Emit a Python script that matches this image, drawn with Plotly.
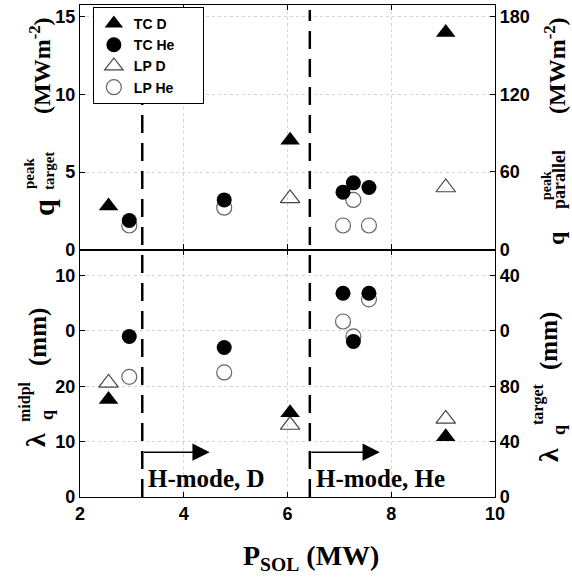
import plotly.graph_objects as go

# ---- data ----
x_D = [2.55, 6.05, 9.05]
x_He = [2.95, 4.78, 7.07, 7.27, 7.57]

# top panel: q_target^peak (MW m^-2)
top_TC_D = [2.8, 7.05, 14.0]
top_TC_He = [1.87, 3.2, 3.7, 4.3, 4.0]
top_LP_D = [None, 3.3, 4.0]
top_LP_He = [1.55, 2.7, 1.55, 3.2, 1.55]

# bottom panel: lambda_q^midpl (mm)
bot_TC_D = [17.6, 15.2, 10.9]
bot_TC_He = [29.0, 27.0, 36.8, 28.1, 36.8]
bot_LP_D = [20.6, 13.0, 14.1]
bot_LP_He = [21.7, 22.5, 31.7, 29.0, 35.7]

x_ticks = [2, 4, 6, 8, 10]
top_left_ticks = [0, 5, 10, 15]
top_right_ticks = [0, 60, 120, 180]
bot_left_ticks = [0, 10, 20, 30, 40]
bot_left_text = ["0", "10", "20", "0", "10"]
bot_right_ticks = [0, 40, 80, 120, 160]
bot_right_text = ["0", "40", "80", "0", "40"]

hmode_D = 3.2
hmode_He = 6.43

SANS = "Liberation Sans, Arial, sans-serif"
SERIF = "Liberation Serif, Times New Roman, serif"
NB = "\u00a0"

fig = go.Figure()

mk = dict(
    TC_D=dict(symbol="triangle-up", size=17, color="black", line=dict(width=0)),
    TC_He=dict(symbol="circle", size=15, color="black", line=dict(width=0)),
    LP_D=dict(symbol="triangle-up-open", size=17, color="#444", line=dict(width=1.2, color="#444")),
    LP_He=dict(symbol="circle-open", size=15, color="#666", line=dict(width=1.2, color="#666")),
)

# open markers drawn first so filled markers sit on top
series = [
    ("LP D", "LP_D", x_D, top_LP_D, bot_LP_D, 3),
    ("LP He", "LP_He", x_He, top_LP_He, bot_LP_He, 4),
    ("TC D", "TC_D", x_D, top_TC_D, bot_TC_D, 1),
    ("TC He", "TC_He", x_He, top_TC_He, bot_TC_He, 2),
]
for name, key, xs, ytop, ybot, rank in series:
    fig.add_trace(go.Scatter(x=xs, y=ytop, mode="markers", name=name + NB * 6, marker=mk[key],
                             xaxis="x2", yaxis="y", legendgroup=name, legendrank=rank))
    fig.add_trace(go.Scatter(x=xs, y=ybot, mode="markers", name=name, marker=mk[key],
                             xaxis="x", yaxis="y3", legendgroup=name, showlegend=False))

# empty traces so the right-hand axes are drawn
fig.add_trace(go.Scatter(x=[], y=[], xaxis="x2", yaxis="y2", showlegend=False, hoverinfo="skip"))
fig.add_trace(go.Scatter(x=[], y=[], xaxis="x", yaxis="y4", showlegend=False, hoverinfo="skip"))

split = 0.503
tickfont = dict(family=SANS, size=18, color="black", weight="bold")
grid = dict(showgrid=True, gridcolor="#d4d4d4", griddash="dot", gridwidth=1)
common = dict(ticks="inside", ticklen=5, tickwidth=1, tickcolor="black",
              showline=True, linecolor="black", linewidth=1.3, zeroline=False, tickfont=tickfont)

fig.update_layout(
    width=572, height=577,
    margin=dict(l=80, r=77, t=5, b=80),
    paper_bgcolor="white", plot_bgcolor="white",
    xaxis=dict(domain=[0, 1], anchor="y3", range=[2, 10], tickvals=x_ticks, mirror="ticks", **grid, **common),
    xaxis2=dict(domain=[0, 1], anchor="y", range=[2, 10], tickvals=x_ticks, matches="x",
                showticklabels=False, mirror="ticks", **grid, **common),
    yaxis=dict(domain=[split, 1], anchor="x2", range=[0, 15.77], tickvals=top_left_ticks, **grid, **common),
    yaxis2=dict(overlaying="y", side="right", anchor="x2", range=[0, 189.2], tickvals=top_right_ticks,
                showgrid=False, **common),
    yaxis3=dict(domain=[0, split], anchor="x", range=[0, 44.7], tickvals=bot_left_ticks,
                ticktext=bot_left_text, **grid, **common),
    yaxis4=dict(overlaying="y3", side="right", anchor="x", range=[0, 178.8], tickvals=bot_right_ticks,
                ticktext=bot_right_text, showgrid=False, **common),
    legend=dict(x=0.031, y=0.996, xanchor="left", yanchor="top", bgcolor="white",
                bordercolor="black", borderwidth=1,
                font=dict(family=SANS, size=14, color="black", weight="bold"),
                tracegroupgap=0, itemwidth=30),
    showlegend=True,
)

# dashed H-mode threshold lines
for xv in (hmode_D, hmode_He):
    fig.add_shape(type="line", xref="x", yref="paper", x0=xv, x1=xv, y0=0, y1=0.99,
                  line=dict(color="black", width=2.5, dash="18px,10px"))

# arrows
for x0, x1 in ((hmode_D, 4.5), (hmode_He, 7.78)):
    fig.add_annotation(x=x1, y=8.1, ax=x0, ay=8.1, xref="x", yref="y3", axref="x", ayref="y3",
                       text="", showarrow=True, arrowhead=2, arrowsize=2.3, arrowwidth=1.5,
                       arrowcolor="black")

fig.add_annotation(x=4.43, y=3.4, xref="x", yref="y3", text="<b>H-mode, D</b>", showarrow=False,
                   font=dict(family=SERIF, size=25, color="black"))
fig.add_annotation(x=7.8, y=3.4, xref="x", yref="y3", text="<b>H-mode, He</b>", showarrow=False,
                   font=dict(family=SERIF, size=25, color="black"))

# x title
fig.add_annotation(x=0.557, y=0, xref="paper", yref="paper", yshift=-60, yanchor="middle",
                   text="<b>P<sub>SOL</sub> (MW)</b>", showarrow=False,
                   font=dict(family=SERIF, size=28, color="black"))


# rotated y titles, built from pieces placed at pixel positions
def rot(text, px, py, size):
    fig.add_annotation(x=0, y=0, xref="paper", yref="paper", xshift=px - 80, yshift=497 - py,
                       xanchor="center", yanchor="middle", textangle=-90, showarrow=False,
                       text="<b>" + text + "</b>", font=dict(family=SERIF, size=size, color="black"))


# top-left: q^peak_target (MWm^-2)
rot("(MWm<sup>-2</sup>)", 40, 66, 24)
rot("q", 43, 208, 30)
rot("peak", 29, 173, 15)
rot("target", 49, 171, 15)
# top-right: q^peak_parallel (MWm^-2)
rot("(MWm<sup>-2</sup>)", 555, 66, 24)
rot("q", 556, 238, 24)
rot("peak", 546, 186, 14)
rot("parallel", 559, 180, 18)
# bottom-left: lambda_q^midpl (mm)
rot("(mm)", 38, 337, 25)
rot("λ", 35, 440, 28)
rot("midpl", 25, 402, 16)
rot("q", 47, 415, 18)
# bottom-right: lambda_q^target (mm)
rot("(mm)", 549, 341, 25)
rot("λ", 548, 455, 28)
rot("target", 538, 404, 16)
rot("q", 559, 430, 18)

fig.write_html("out.html")
